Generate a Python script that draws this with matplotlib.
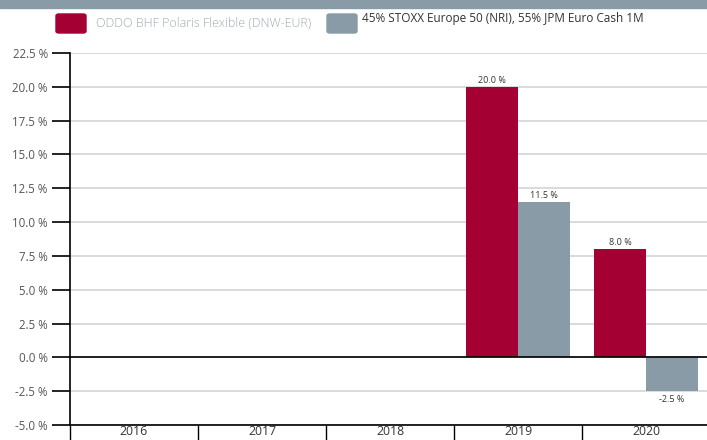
import numpy as np
import matplotlib.pyplot as plt
from matplotlib.patches import FancyBboxPatch, Rectangle

plt.rcParams['font.family'] = ['Open Sans', 'DejaVu Sans']

years = ["2016", "2017", "2018", "2019", "2020"]
fund = [np.nan, np.nan, np.nan, 20.0, 8.0]
bench = [np.nan, np.nan, np.nan, 11.5, -2.5]
fund_name = "ODDO BHF Polaris Flexible (DNW-EUR)"
bench_name = "45% STOXX Europe 50 (NRI), 55% JPM Euro Cash 1M"
y_ticks = np.arange(-5.0, 22.6, 2.5)

red = "#a50034"
grey = "#8a9ba8"

fig = plt.figure(figsize=(7.07, 4.40), dpi=100)
ax = fig.add_axes([70 / 707, 15 / 440, 640 / 707, 372 / 440])

x = np.arange(len(years))
w = 0.405
ax.bar(x - w / 2, fund, w, color=red, zorder=3)
ax.bar(x + w / 2, bench, w, color=grey, zorder=3)

for xi, v in zip(x - w / 2, fund):
    if not np.isnan(v):
        ax.text(xi, v + 0.15 if v >= 0 else v - 0.3, f"{v:.1f} %", ha="center",
                va="bottom" if v >= 0 else "top", fontsize=6.5, color="#333333")
for xi, v in zip(x + w / 2, bench):
    if not np.isnan(v):
        ax.text(xi, v + 0.15 if v >= 0 else v - 0.3, f"{v:.1f} %", ha="center",
                va="bottom" if v >= 0 else "top", fontsize=6.5, color="#333333")

ax.set_xlim(-0.5, 4.5)
ax.set_ylim(-5.0, 22.5)
ax.set_yticks(y_ticks)
ax.set_yticklabels([f"{t:.1f} %" for t in y_ticks], fontsize=8.3, color="#555555")
ax.grid(axis="y", color="#d4d4d4", linewidth=1.2, zorder=0)
ax.axhline(0, color="black", linewidth=1.2, zorder=4)

ax.set_xticks(x)
ax.set_xticklabels(years, fontsize=8.8, color="#333333")
ax.set_xticks(np.arange(-0.5, 5.0, 1.0), minor=True)
ax.tick_params(axis="x", which="major", length=0, pad=0)
ax.tick_params(axis="x", which="minor", length=12, width=1, color="black")
ax.tick_params(axis="y", length=13, width=1.2, color="black", pad=3)

for s in ["top", "right"]:
    ax.spines[s].set_visible(False)
ax.spines["left"].set_linewidth(1.2)
ax.spines["bottom"].set_linewidth(1.2)

# top band
fig.add_artist(Rectangle((0, 1 - 8 / 440), 1, 8 / 440, transform=fig.transFigure,
                         color=grey, zorder=0))

# legend
def box(px, py, col):
    fig.add_artist(FancyBboxPatch((px / 707, 1 - (py + 19) / 440), 30 / 707, 19 / 440,
                                  boxstyle="round,pad=0,rounding_size=0.004",
                                  transform=fig.transFigure, color=col))

box(56, 14, red)
fig.text(96 / 707, 1 - 23 / 440, fund_name, fontsize=9, color="#a0aab3", va="center",
         fontweight="light")
box(327, 14, grey)
fig.text(362 / 707, 1 - 18.5 / 440, bench_name, fontsize=8.5, color="#333333", va="center")

fig.savefig("out.png", dpi=100)
